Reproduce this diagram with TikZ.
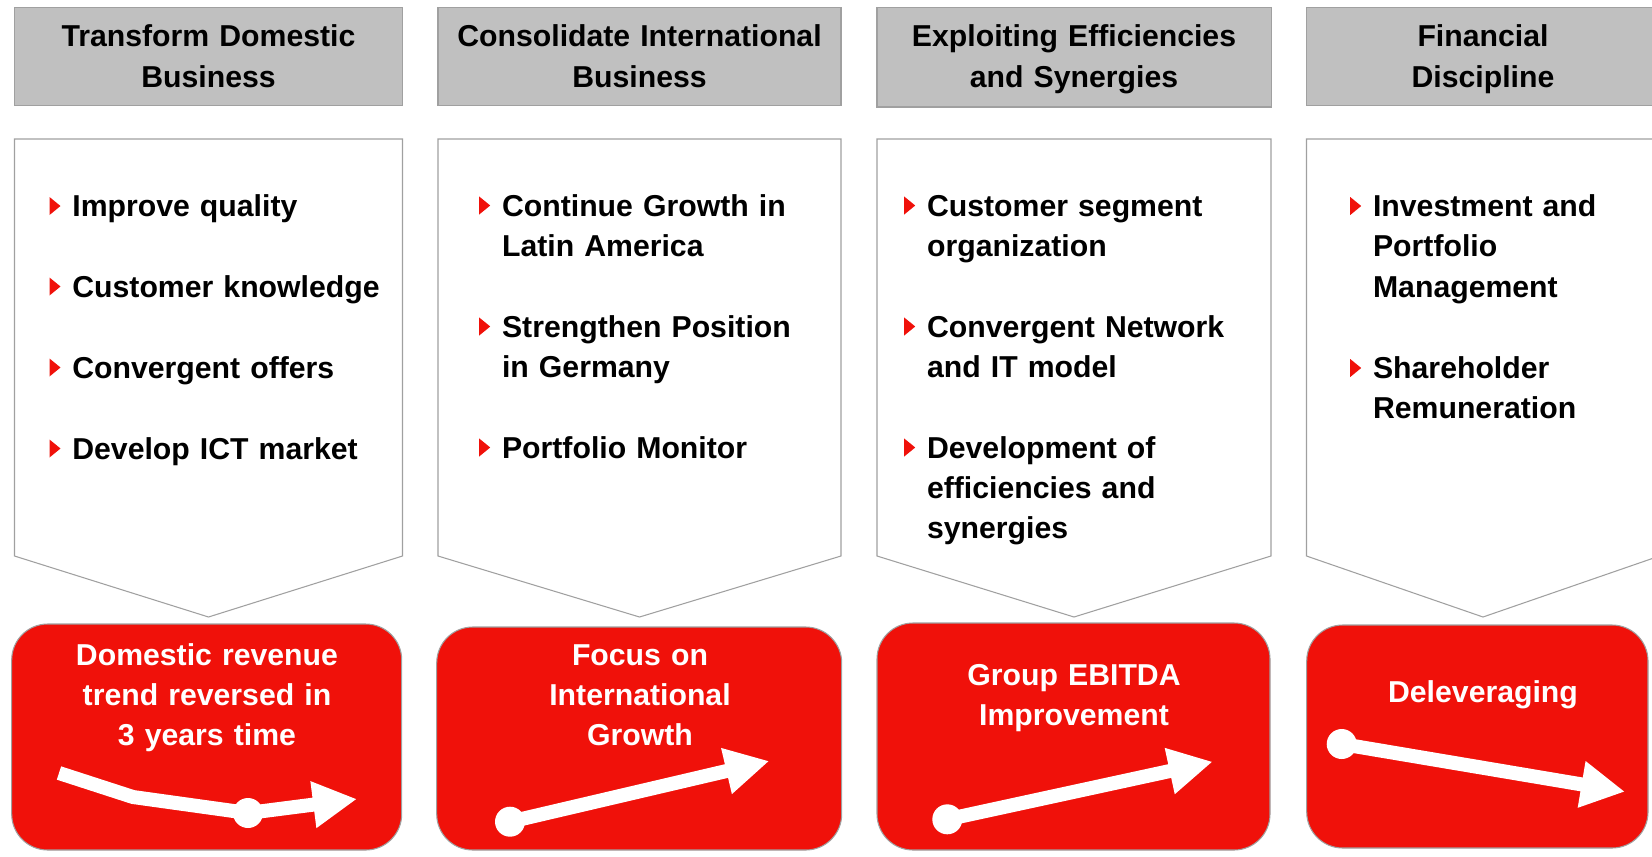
\documentclass[tikz,border=0pt]{standalone}
\usepackage{fontspec}
\setmainfont{Liberation Sans}
\usepackage{tikz}
\usetikzlibrary{arrows.meta,calc}
\usepackage{xcolor}
\definecolor{planred}{RGB}{240,17,10}
\definecolor{headgray}{RGB}{192,192,192}
\definecolor{edgegray}{RGB}{160,160,160}

\begin{document}
\begin{tikzpicture}[
    x=0.02cm, y=-0.02cm,
    txt/.style={font=\fontsize{17.2}{23}\selectfont\bfseries, inner sep=0pt},
    head/.style={txt, text width=7.8cm, align=center, anchor=base},
    headbox/.style={fill=headgray, draw=edgegray, line width=0.6pt},
    panel/.style={fill=white, draw=edgegray, line width=0.6pt},
    item/.style={txt, text width=7cm, align=left, anchor=base west},
    bul/.style={fill=planred},
    goalbox/.style={fill=planred, draw=edgegray, line width=0.6pt, rounded corners=0.72cm},
    goal/.style={txt, text=white, text width=7.8cm, align=center, anchor=base},
    trend/.style={white, line width=0.28cm, line join=round,
                  -{Triangle[length=0.88cm, width=0.88cm]}},
    dot/.style={fill=white},
]
\clip (0,0) rectangle (1652,856);
\fill[white] (0,0) rectangle (1652,856);

% Header bars
\draw[headbox] (14.5,7.5) rectangle (402.5,105.5);
\draw[headbox] (438,7.5) rectangle (841,105.5);
\draw[headbox] (877,7.5) rectangle (1271.5,107);
\draw[headbox] (1306.5,7.5) rectangle (1670,105.5);
\node[head] (h1) at (208.5,46.7) {Transform Domestic\\Business};
\node[head] (h2) at (639.5,46.7) {Consolidate International\\Business};
\node[head] (h3) at (1074,46.7) {Exploiting Efficiencies\\and Synergies};
\node[head] (h4) at (1483,46.7) {Financial\\Discipline};

% Chevron panels
\foreach \l/\r in {14.5/402.5, 438/841, 877/1271, 1306.5/1659.5} {
    \draw[panel] (\l,139) -- (\r,139) -- (\r,556) -- ({(\l+\r)/2},617)
        -- (\l,556) -- cycle;
}

% Bullet points
\foreach \n/\y/\t in {a/216.5/Improve quality, b/297/Customer knowledge,
                      c/378/Convergent offers, d/459/Develop ICT market} {
    \node[item] (c1\n) at (72,\y) {\t};
    \fill[bul] ($(c1\n.base west)+(-22.5,-1.5)$) -- ++(11,-9) -- ++(-11,-9) -- cycle;
}
\foreach \n/\y/\t in {a/216/{Continue Growth in\\Latin America},
                      b/337/{Strengthen Position\\in Germany},
                      c/458/Portfolio Monitor} {
    \node[item] (c2\n) at (501.7,\y) {\t};
    \fill[bul] ($(c2\n.base west)+(-22.5,-1.5)$) -- ++(11,-9) -- ++(-11,-9) -- cycle;
}
\foreach \n/\y/\t in {a/216/{Customer segment\\organization},
                      b/337/{Convergent Network\\and IT model},
                      c/458/{Development of\\efficiencies and\\synergies}} {
    \node[item] (c3\n) at (926.7,\y) {\t};
    \fill[bul] ($(c3\n.base west)+(-22.5,-1.5)$) -- ++(11,-9) -- ++(-11,-9) -- cycle;
}
\foreach \n/\y/\t in {a/216.5/{Investment and\\Portfolio\\Management},
                      b/378.5/{Shareholder\\Remuneration}} {
    \node[item] (c4\n) at (1372.7,\y) {\t};
    \fill[bul] ($(c4\n.base west)+(-22.5,-1.5)$) -- ++(11,-9) -- ++(-11,-9) -- cycle;
}

% Target boxes
\draw[goalbox] (11.7,624) rectangle (401.7,850);
\draw[goalbox] (436.7,627) rectangle (841.7,850);
\draw[goalbox] (877,623) rectangle (1270,850);
\draw[goalbox] (1306.7,625) rectangle (1648,848);
\node[goal] (g1) at (207,665) {Domestic revenue\\trend reversed in\\3 years time};
\node[goal] (g2) at (640,665) {Focus on\\International\\Growth};
\node[goal] (g3) at (1074,685) {Group EBITDA\\Improvement};
\node[goal] (g4) at (1483,702) {Deleveraging};

% Trend arrows
\draw[trend] (59,773) -- (133,797) -- (248,813) -- (357,799);
\fill[dot] (248,813) circle (0.3cm);
\draw[trend] (510,821.7) -- (769.3,761);
\fill[dot] (510,821.7) circle (0.3cm);
\draw[trend] (947.3,819.3) -- (1212.7,761.7);
\fill[dot] (947.3,819.3) circle (0.3cm);
\draw[trend] (1341.7,744) -- (1625,791.7);
\fill[dot] (1341.7,744) circle (0.3cm);
\end{tikzpicture}
\end{document}
